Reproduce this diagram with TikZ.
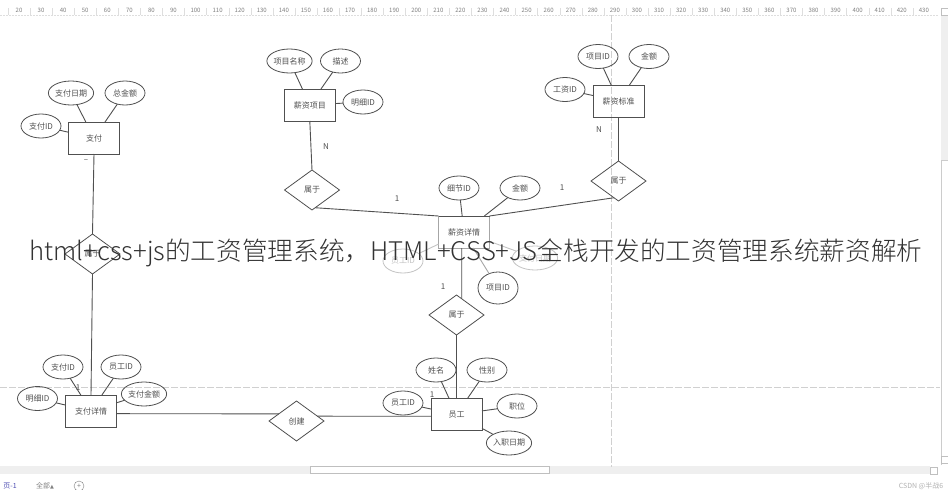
\documentclass[tikz,border=0pt]{standalone}
\usepackage{fontspec}
\setmainfont{Noto Sans CJK SC}
\newfontfamily\titlefont{Noto Sans CJK SC}[UprightFont=* Light]
\newfontfamily\symfont{DejaVu Sans}
\usetikzlibrary{shapes.geometric}
\definecolor{ink}{HTML}{505050}
\definecolor{guide}{HTML}{D0D0D0}
\definecolor{faded}{HTML}{C4C4C4}
\definecolor{barfill}{HTML}{EFEFEF}
\tikzset{
  ent/.style={draw=ink,line width=0.9pt,rectangle,minimum width=51pt,minimum height=32pt,inner sep=0pt,outer sep=0pt,font=\fontsize{8}{8}\selectfont,text=ink},
  attr/.style={draw=ink,line width=0.8pt,ellipse,minimum width=40pt,minimum height=24pt,inner sep=0pt,outer sep=0pt,font=\fontsize{8}{8}\selectfont,text=ink},
  rel/.style={draw=ink,line width=0.8pt,diamond,minimum width=55pt,minimum height=40pt,inner sep=0pt,outer sep=0pt,font=\fontsize{8}{8}\selectfont,text=ink},
  fadedattr/.style={attr,draw=faded,text=faded},
  conn/.style={draw=ink,line width=0.9pt},
  card/.style={font=\fontsize{8}{8}\selectfont,text=ink,inner sep=0pt},
  guideh/.style={draw=guide,line width=0.8pt,dash pattern=on 7pt off 2pt},
  rulernum/.style={font=\fontsize{6}{6}\selectfont,text=gray,inner sep=0pt},
  uitext/.style={font=\fontsize{7}{7}\selectfont,text=gray,inner sep=0pt},
  sbutton/.style={draw=gray!50,fill=white,line width=0.5pt,minimum size=7pt,inner sep=0pt},
}
\begin{document}
\begin{tikzpicture}[x=1pt,y=-1pt]
\useasboundingbox (0,0) rectangle (948,490);
\fill[white] (0,0) rectangle (948,490);
% ruler
\draw[guide!70,line width=0.5pt,dash pattern=on 2pt off 1pt] (0,15) -- (938,15);
\foreach \n [count=\i from 0] in {20,30,...,430}{
  \node[rulernum] (r\n) at ({19+22.07*\i},10) {\n};
  \draw[guide!70,line width=0.4pt] ({8+22.07*\i},8) -- ({8+22.07*\i},15);
}
% scroll bars
\fill[barfill] (0,466) rectangle (930,474);
\node[draw=gray!50,fill=white,line width=0.5pt,minimum width=239pt,minimum height=7pt,inner sep=0pt] (thumb) at (429.5,470) {};
\fill[barfill] (941,15) rectangle (948,160);
\draw[gray!40,line width=0.5pt] (941.5,465) -- (941.5,160) -- (948,160);
\node[sbutton] (btna) at (944.5,12) {};
\node[sbutton] (btnb) at (934,470.5) {};
\node[sbutton] (btnc) at (945,460) {};
% guides
\draw[guideh] (0,387.5) -- (940,387.5);
\draw[guideh] (611.5,15) -- (611.5,467);
% faded elements behind the title
\node[ent,draw=gray!70] (det) at (464,232) {薪资详情};
\node[fadedattr] (fa) at (403,261) {员工ID};
\node[fadedattr] (fb) at (535,258) {支付日期};
\draw[conn,draw=faded] (fa) -- (det);
\draw[conn,draw=faded] (fb) -- (det);
% payment
\node[ent] (pay) at (94,138) {支付};
\node[attr] (payd) at (71,93) {支付日期};
\node[attr] (payt) at (125,93) {总金额};
\node[attr] (payi) at (41,126) {支付ID};
\node[rel] (r1) at (92.5,254) {属于};
\node[ent] (pdet) at (91,411) {支付详情};
\node[attr] (pdp) at (63,367) {支付ID};
\node[attr] (pde) at (121,367) {员工ID};
\node[attr] (pda) at (144,394) {支付金额};
\node[attr] (pdm) at (37.5,398.5) {明细ID};
\node[rel] (r2) at (296.5,421) {创建};
% items
\node[ent] (item) at (309.8,105) {薪资项目};
\node[attr] (itn) at (289.5,61) {项目名称};
\node[attr] (itd) at (340.5,61) {描述};
\node[attr] (itm) at (363,102) {明细ID};
\node[rel] (r3) at (312,190) {属于};
% detail
\node[attr] (deti) at (459,188) {细节ID};
\node[attr] (detm) at (520,188) {金额};
\node[attr,minimum height=32pt] (detp) at (498,288) {项目ID};
\node[rel] (r4) at (456.5,315) {属于};
% standard
\node[ent] (std) at (618.5,101) {薪资标准};
\node[attr] (stp) at (598,56.5) {项目ID};
\node[attr] (stm) at (649,56.5) {金额};
\node[attr] (stg) at (565,89.5) {工资ID};
\node[rel] (r5) at (618.5,181) {属于};
% employee
\node[ent] (emp) at (456.5,414.5) {员工};
\node[attr] (emn) at (436,370) {姓名};
\node[attr] (ems) at (487,370) {性别};
\node[attr] (emi) at (403,403) {员工ID};
\node[attr] (emj) at (517,406) {职位};
\node[attr] (emd) at (509,443) {入职日期};
% connectors
\foreach \a/\b in {payd/pay,payt/pay,payi/pay,pdp/pdet,pde/pdet,pda/pdet,pdm/pdet,
  itn/item,itd/item,itm/item,deti/det,detm/det,stp/std,stm/std,stg/std,
  emn/emp,ems/emp,emi/emp,emj/emp,emd/emp}{
  \draw[conn] (\a) -- (\b);
}
\draw[conn] (pay.south) -- (r1.north);
\draw[conn] (r1.south) -- (pdet.north);
\draw[conn] (pdet.-6.7) -- (r2.158.6);
\draw[conn] (r2.13.6) -- (emp.-176.6);
\draw[conn] (item.south) -- (r3.north);
\draw[conn] (r3.-80) -- (det.north west);
\draw[conn] (det.north west) -- (det.north east);
\draw[conn] (det.north east) -- (r5.-105);
\draw[conn] (std.south) -- (r5.north);
\draw[conn] (det.-98) -- (r4.72);
\draw[conn] (r4.south) -- (emp.north);
\draw[conn,draw=gray!70] (det.-60) -- (detp);
% cardinality
\node[card] (c1) at (86,161) {--};
\node[card] (c2) at (326,147) {N};
\node[card] (c3) at (397,199) {1};
\node[card] (c4) at (562,188) {1};
\node[card] (c5) at (599,130) {N};
\node[card] (c6) at (443,287) {1};
\node[card] (c7) at (432,395) {1};
\node[card] (c8) at (78,388) {1};
% footer
\node[uitext,text=blue!40!gray] (tab) at (10,486) {页-1};
\node[uitext] (all) at (45,486) {全部{\symfont\fontsize{5}{5}\selectfont ▲}};
\node[draw=gray,circle,minimum size=10pt,inner sep=0pt,uitext] (add) at (79,486) {+};
\node[uitext,text=gray!60] (mark) at (921,486) {CSDN @半战6};
% title
\node[inner sep=0pt,text=black!80,font=\titlefont\fontsize{25.65}{25.65}\selectfont] (title) at (476,253) {html+css+js的工资管理系统，HTML+CSS+JS全栈开发的工资管理系统薪资解析};
\end{tikzpicture}
\end{document}
